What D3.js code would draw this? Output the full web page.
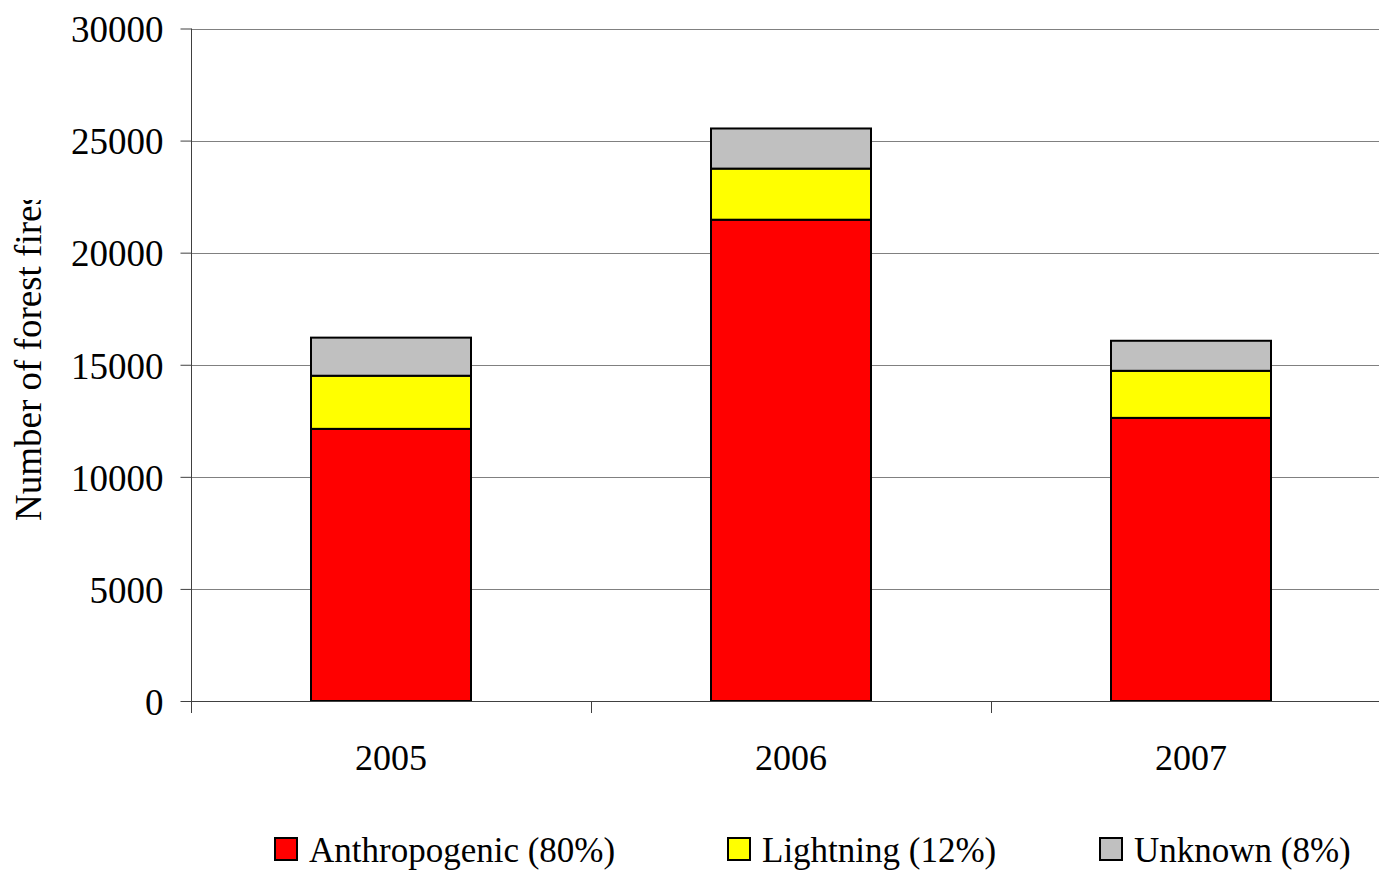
<!DOCTYPE html>
<html>
<head>
  <meta charset="UTF-8">
  <title>Number of forest fires</title>
  <style>
    body { margin: 0; background: #fff; }
    svg text { font-family: "Liberation Serif", "Times New Roman", serif; fill: #000; }
  </style>
</head>
<body>
<svg id="chart" width="1379" height="870"></svg>
<script src="https://d3js.org/d3.v7.min.js"></script>
<script>

// data
var years = ["2005", "2006", "2007"];
var anthropogenic = [12140, 21470, 12630];
var lightning = [2370, 2280, 2100];
var unknown = [1700, 1790, 1340];
var seriesNames = ["Anthropogenic (80%)", "Lightning (12%)", "Unknown (8%)"];
var seriesColors = ["#ff0000", "#ffff00", "#c0c0c0"];
var yTicks = [0, 5000, 10000, 15000, 20000, 25000, 30000];

var svg = d3.select("#chart");

// plot area (the right edge runs past the window, like the original)
var plotL = 191, plotR = 1391, plotT = 28.5, plotB = 701;

var x = d3.scaleBand()
  .domain(years)
  .range([plotL, plotR])
  .paddingInner(0.6)
  .paddingOuter(0.3);

var y = d3.scaleLinear()
  .domain([0, 30000])
  .range([plotB, plotT]);

// build rows for the stack
var rows = years.map(function(yr, i) {
  return { year: yr, a: anthropogenic[i], l: lightning[i], u: unknown[i] };
});
var stack = d3.stack().keys(["a", "l", "u"]);
var layers = stack(rows);

// gridlines
svg.append("g")
  .selectAll("line")
  .data(yTicks.filter(function(d) { return d > 0; }))
  .enter().append("line")
  .attr("x1", plotL).attr("x2", plotR)
  .attr("y1", function(d) { return Math.round(y(d)) + 0.5; })
  .attr("y2", function(d) { return Math.round(y(d)) + 0.5; })
  .attr("stroke", "#808080")
  .attr("stroke-width", 1);

// bars
svg.append("g")
  .selectAll("g")
  .data(layers)
  .enter().append("g")
  .attr("fill", function(d, i) { return seriesColors[i]; })
  .selectAll("rect")
  .data(function(d) { return d; })
  .enter().append("rect")
  .attr("x", function(d) { return x(d.data.year); })
  .attr("width", x.bandwidth())
  .attr("y", function(d) { return y(d[1]); })
  .attr("height", function(d) { return y(d[0]) - y(d[1]); })
  .attr("stroke", "#000")
  .attr("stroke-width", 2);

// y axis
var yAxis = d3.axisLeft(y)
  .tickValues(yTicks)
  .tickSize(11)
  .tickPadding(17)
  .tickFormat(d3.format("d"));

var yg = svg.append("g")
  .attr("transform", "translate(" + (plotL + 0.5) + ",0)")
  .call(yAxis);
yg.select(".domain").remove();
yg.selectAll(".tick line").attr("stroke", "#404040");
yg.selectAll(".tick text")
  .style("font-size", "37px")
  .attr("dy", "0.36em");

// axis lines
svg.append("line")
  .attr("x1", plotL + 0.5).attr("x2", plotL + 0.5)
  .attr("y1", plotT).attr("y2", plotB + 12)
  .attr("stroke", "#404040");
svg.append("line")
  .attr("x1", plotL).attr("x2", plotR)
  .attr("y1", plotB + 0.5).attr("y2", plotB + 0.5)
  .attr("stroke", "#404040");

// x ticks between categories
var step = x.step();
var xTickPos = years.map(function(yr) { return x(yr) + x.bandwidth() / 2 + step / 2; });
svg.append("g")
  .selectAll("line")
  .data(xTickPos)
  .enter().append("line")
  .attr("x1", function(d) { return Math.round(d) + 0.5; })
  .attr("x2", function(d) { return Math.round(d) + 0.5; })
  .attr("y1", plotB).attr("y2", plotB + 12)
  .attr("stroke", "#404040");

// x labels
svg.append("g")
  .selectAll("text")
  .data(years)
  .enter().append("text")
  .attr("x", function(d) { return x(d) + x.bandwidth() / 2; })
  .attr("y", 770)
  .attr("text-anchor", "middle")
  .style("font-size", "36px")
  .text(function(d) { return d; });

// y title, clipped at the top like the original
svg.append("clipPath").attr("id", "titleClip")
  .append("rect").attr("x", 0).attr("y", 200).attr("width", 60).attr("height", 400);
svg.append("g")
  .attr("clip-path", "url(#titleClip)")
  .append("text")
  .attr("transform", "translate(41,521) rotate(-90)")
  .style("font-size", "37px")
  .text("Number of forest fires");

// legend
var legendX = [275, 728, 1100];
var legend = svg.append("g")
  .selectAll("g")
  .data(seriesNames)
  .enter().append("g")
  .attr("transform", function(d, i) { return "translate(" + legendX[i] + ",838)"; });

legend.append("rect")
  .attr("width", 22).attr("height", 22)
  .attr("fill", function(d, i) { return seriesColors[i]; })
  .attr("stroke", "#000")
  .attr("stroke-width", 2);

legend.append("text")
  .attr("x", 34)
  .attr("y", 24)
  .style("font-size", "35px")
  .text(function(d) { return d; });

</script>
</body>
</html>
